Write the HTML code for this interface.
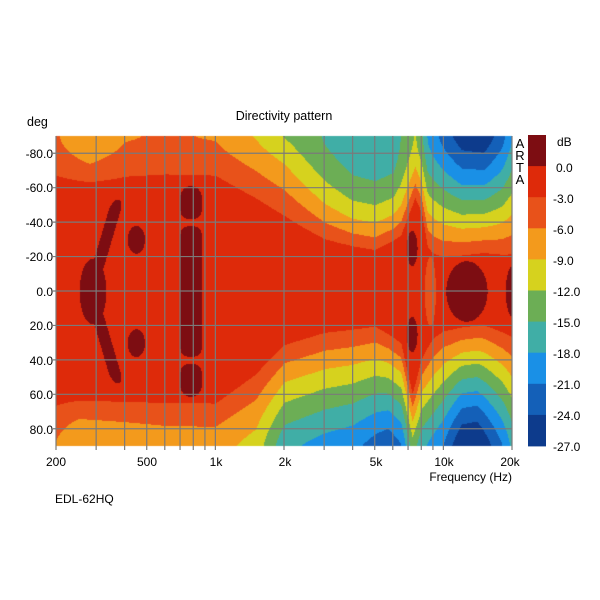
<!DOCTYPE html>
<html><head><meta charset="utf-8"><style>
body{margin:0;background:#fff;width:600px;height:600px;overflow:hidden;position:relative;font-family:"Liberation Sans",Arial,sans-serif;}
canvas{position:absolute;left:0;top:0}
svg{position:absolute;left:0;top:0}
</style></head><body>
<canvas id="c" width="600" height="600"></canvas>
<svg width="600" height="600" font-family="Liberation Sans, Arial, sans-serif" font-size="12" fill="#000">
<g id="grid" stroke="#7a7a7a" stroke-width="1.2"></g>
<text x="284" y="120" text-anchor="middle" font-size="12.5">Directivity pattern</text>
<text x="27" y="126" font-size="12.5">deg</text>
<g text-anchor="end">
<text x="53" y="158">-80.0</text><text x="53" y="192">-60.0</text><text x="53" y="227">-40.0</text>
<text x="53" y="261">-20.0</text><text x="53" y="296">0.0</text><text x="53" y="330">20.0</text>
<text x="53" y="365">40.0</text><text x="53" y="399">60.0</text><text x="53" y="434">80.0</text>
</g>
<g text-anchor="middle">
<text x="56" y="466">200</text><text x="147" y="466">500</text><text x="216" y="466">1k</text>
<text x="285" y="466">2k</text><text x="376" y="466">5k</text><text x="444" y="466">10k</text><text x="510" y="466">20k</text>
</g>
<text x="512" y="481" text-anchor="end">Frequency (Hz)</text>
<text x="55" y="503">EDL-62HQ</text>
<g text-anchor="middle" font-size="13"><text x="520" y="148">A</text><text x="520" y="160">R</text><text x="520" y="172">T</text><text x="520" y="184">A</text></g>
<g id="cb"></g>
<g>
<text x="557" y="146">dB</text><text x="556" y="172">0.0</text><text x="553" y="203">-3.0</text><text x="553" y="234">-6.0</text>
<text x="553" y="265">-9.0</text><text x="553" y="296">-12.0</text><text x="553" y="327">-15.0</text><text x="553" y="358">-18.0</text>
<text x="553" y="389">-21.0</text><text x="553" y="420">-24.0</text><text x="553" y="451">-27.0</text>
</g>
</svg>
<script>
(function(){
var cols=["#7d0d12","#de2a0a","#e8521a","#f39a1c","#d6d21e","#6cae55","#40aea6","#1a90e6","#1460b8","#0d3b8c"];
var X0=56,X1=512,Y0=136,Y1=446;
function interp(k,u){if(u<=k[0][0])return k[0][1];for(var i=0;i<k.length-1;i++){if(u<=k[i+1][0]){var t=(u-k[i][0])/(k[i+1][0]-k[i][0]);return k[i][1]+t*(k[i+1][1]-k[i][1]);}}return k[k.length-1][1];}
function U(f){return Math.log10(f/200)/2;}
function K(a){return a.map(function(p){return[U(p[0]),p[1]]});}
var tA=K([[200,-4.5],[280,-7.5],[400,-5],[600,-4.5],[1000,-5],[1500,-8],[2000,-11],[3000,-14],[4000,-15.5],[5000,-16],[6000,-15.5],[7000,-12],[7500,-10.5],[8000,-13],[8500,-17],[10000,-21],[12000,-24.5],[15000,-25],[18000,-21],[20000,-17]]);
var tA0=K([[200,58],[1000,58],[1500,45],[2000,35],[3000,25],[5000,20],[6500,28],[7500,50],[8000,42],[8500,25],[10000,15],[15000,18],[20000,15]]);
var tQ=K([[200,1.5],[1000,1.3],[2000,1],[4000,2],[6000,2],[10000,1.2],[20000,1.2]]);
var bA=K([[200,-5],[250,-7.5],[400,-7],[600,-6.5],[1000,-6.5],[1500,-9],[2000,-16],[3000,-18],[4000,-19],[5000,-21],[5700,-22],[6500,-20],[7300,-12],[8000,-16],[10000,-20],[12000,-26],[14000,-26.5],[18000,-20],[20000,-16]]);
var bA0=K([[200,58],[1000,58],[1500,40],[2000,25],[3000,18],[5000,15],[6500,25],[7300,55],[8000,35],[10000,18],[15000,15],[20000,20]]);
var bQ=K([[200,1.5],[1000,1.3],[2000,1.2],[20000,1.2]]);
function g(u,a,uc,ac,su,sa){var d=(u-uc)/su,e=(a-ac)/sa;return Math.exp(-0.5*(d*d+e*e));}
function val(u,a){
 var A,a0,q;
 if(a<0){A=interp(tA,u);a0=interp(tA0,u);q=interp(tQ,u);}else{A=interp(bA,u);a0=interp(bA0,u);q=interp(bQ,u);}
 var t=Math.max(0,(Math.abs(a)-a0)/(90-a0));var s=1-Math.pow(1-t,q);
 var v=-1.2+A*s;
 v-=2.5*g(u,a,0.82,0,0.015,25);
 var b=-99,aa=Math.abs(a);
 if(aa<56){var uc=0.075+0.058*aa/52;var e=Math.exp(-0.5*Math.pow((u-uc)/0.009,2));if(aa>48)e*=Math.max(0,1-(aa-48)/8);b=Math.max(b,-1.2+3.5*e);}
 b=Math.max(b,-1.2+3.5*g(u,a,0.08,0,0.02,13));
 b=Math.max(b,-1.2+3.5*g(u,a,0.175,-30,0.013,5.5),-1.2+3.5*g(u,a,0.175,30,0.013,5.5));
 if(aa<64){var sx=Math.exp(-0.5*Math.pow((u-0.295)/0.016,2));var gap=Math.exp(-0.5*Math.pow((aa-40)/2.5,2));sx*=1-0.9*gap;if(aa>56)sx*=Math.max(0,1-(aa-56)/8);b=Math.max(b,-1.2+3.5*sx);}
 b=Math.max(b,-1.2+3.5*g(u,a,0.78,-25,0.008,7),-1.2+3.5*g(u,a,0.78,25,0.008,7));
 b=Math.max(b,-1.2+3.5*g(u,a,0.90,0,0.031,12));
 b=Math.max(b,-1.2+3.5*g(u,a,1.0,0,0.01,10));
 if(b>=0)return b;
 return v;
}
var c=document.getElementById('c').getContext('2d');
var W=X1-X0,H=Y1-Y0;
var img=c.createImageData(W,H);
var rgb=cols.map(function(h){return[parseInt(h.substr(1,2),16),parseInt(h.substr(3,2),16),parseInt(h.substr(5,2),16)]});
for(var y=0;y<H;y++)for(var x=0;x<W;x++){
 var u=x/W,a=-90+180*y/H;var v=val(u,a);
 var i=v>=0?0:Math.min(9,1+Math.floor(-v/3));var k=(y*W+x)*4;
 img.data[k]=rgb[i][0];img.data[k+1]=rgb[i][1];img.data[k+2]=rgb[i][2];img.data[k+3]=255;}
c.putImageData(img,X0,Y0);
var ns="http://www.w3.org/2000/svg",gr=document.getElementById('grid');
function ln(x1,y1,x2,y2){var l=document.createElementNS(ns,'line');l.setAttribute('x1',x1);l.setAttribute('y1',y1);l.setAttribute('x2',x2);l.setAttribute('y2',y2);gr.appendChild(l);}
[200,300,400,500,600,700,800,900,1000,2000,3000,4000,5000,6000,7000,8000,9000,10000,20000].forEach(function(f){var x=X0+U(f)*W;ln(x,Y0,x,Y1+4);});
for(var d=-80;d<=80;d+=20){var yy=Y0+(d+90)/180*H;ln(X0-3,yy,X1,yy);}
var cb=document.getElementById('cb');
for(var j=0;j<10;j++){var r=document.createElementNS(ns,'rect');r.setAttribute('x',528);r.setAttribute('y',135+j*31.1);r.setAttribute('width',18);r.setAttribute('height',31.5);r.setAttribute('fill',cols[j]);cb.appendChild(r);}
})();
</script>
</body></html>
